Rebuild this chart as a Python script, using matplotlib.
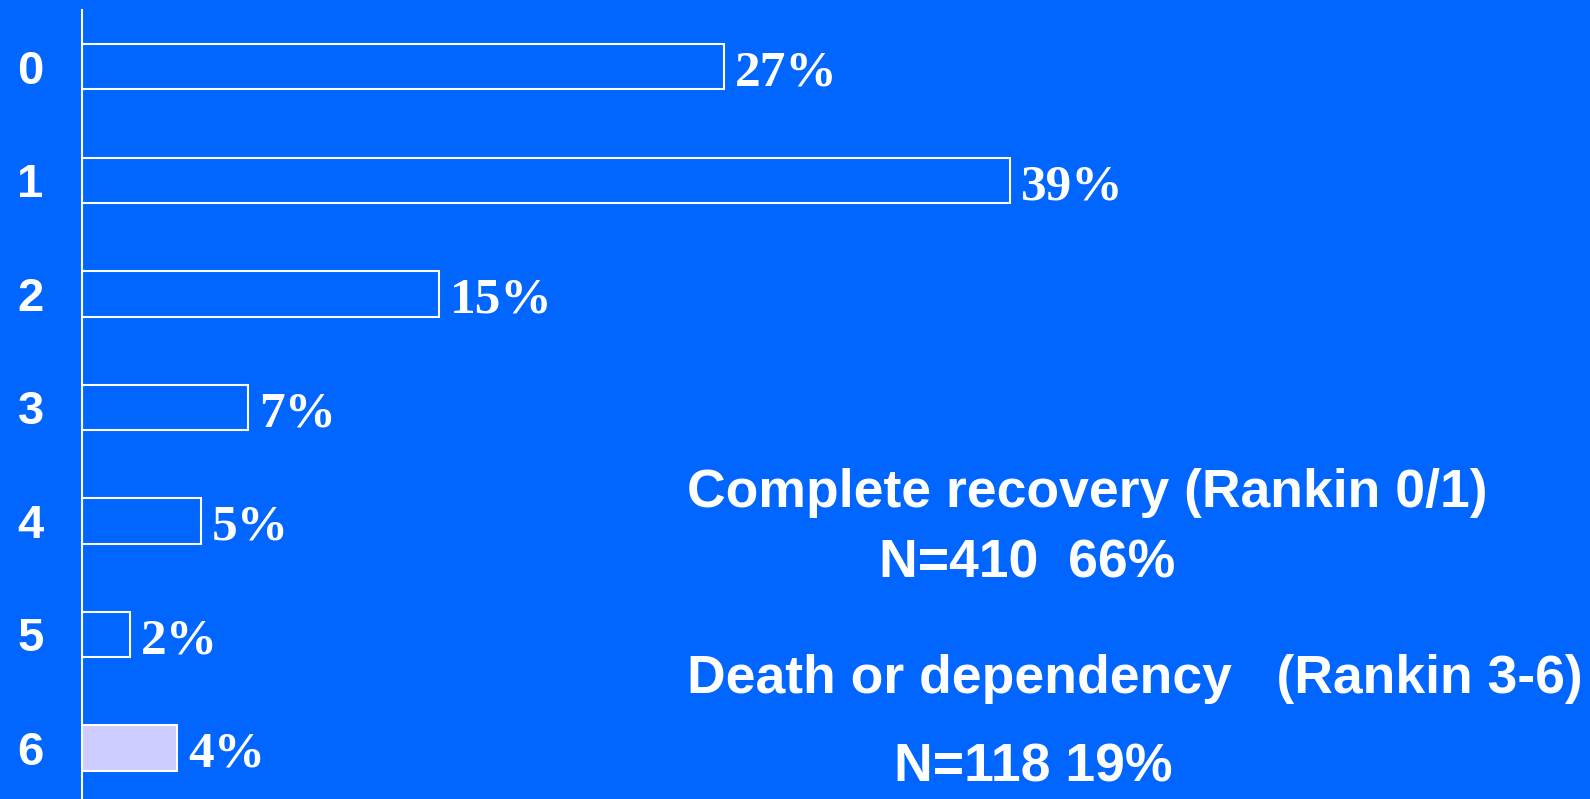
import matplotlib.pyplot as plt
from matplotlib.font_manager import FontProperties

# modified Rankin score at follow-up
scores = ['0', '1', '2', '3', '4', '5', '6']
percent = [27, 39, 15, 7, 5, 2, 4]
fills = ['#0066FF'] * 6 + ['#CCCCFF']

summary_lines = [
    ('Complete recovery (Rankin 0/1)', 687, 507),
    ('N=410  66%', 879, 577),
    ('Death or dependency   (Rankin 3-6)', 687, 693),
    ('N=118 19%', 894, 782),
]

BG = '#0066FF'
W, H = 1590, 799

serif_bold = FontProperties(family='Liberation Serif', weight='bold', size=37)
sans_bold = FontProperties(family='Liberation Sans', weight='bold', size=38.5)

fig = plt.figure(figsize=(W / 100, H / 100), dpi=100, facecolor=BG)
ax = fig.add_axes([82 / W, 0, 1 - 82 / W, 1 - 10 / H], facecolor=BG)

ypos = list(range(len(scores)))
ax.barh(ypos, percent, height=0.4, color=fills, edgecolor='white', linewidth=1.5)

for y, v in zip(ypos, percent):
    ax.annotate(f'{v}%', (v, y), xytext=(8, -5), textcoords='offset points',
                ha='left', va='center', color='white', fontproperties=serif_bold)

ax.set_xlim(0, 63.4)
ax.set_ylim(6.45, -0.50)
ax.set_yticks(ypos)
ax.set_yticklabels(scores, color='white', fontsize=34, fontweight='bold',
                   family='Liberation Sans')
ax.tick_params(axis='y', length=0, pad=37)
for lab in ax.get_yticklabels():
    lab.set_horizontalalignment('center')
ax.set_xticks([])
for side in ['top', 'right', 'bottom']:
    ax.spines[side].set_visible(False)
ax.spines['left'].set_color('white')
ax.spines['left'].set_linewidth(1.5)

for txt, x, y in summary_lines:
    fig.text(x / W, 1 - y / H, txt, ha='left', va='baseline', color='white',
             fontproperties=sans_bold)

fig.savefig('out.png', dpi=100, facecolor=BG)
